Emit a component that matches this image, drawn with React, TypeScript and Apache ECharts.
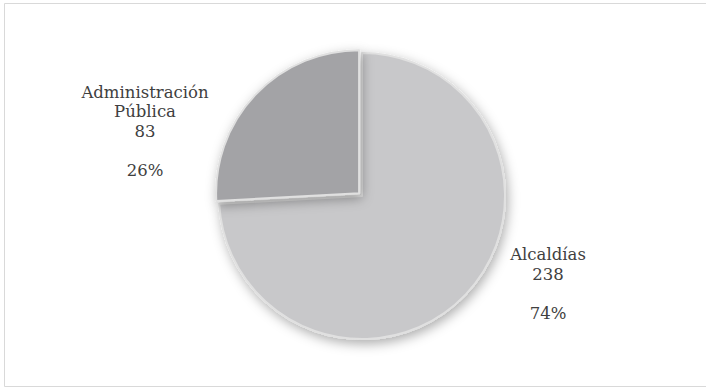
import React, { useEffect, useRef } from "react";
import * as echarts from "echarts";

const categories: string[] = ["Alcaldías", "Administración Pública"];
const values: number[] = [238, 83];
const colors: string[] = ["#c8c8ca", "#a3a3a6"];
const labelPositions: [number, number][] = [
  [548, 284],
  [145, 131],
];

export default function App() {
  const ref = useRef<HTMLDivElement>(null);
  useEffect(() => {
    if (!ref.current) return;
    const chart = echarts.init(ref.current, undefined, { renderer: "svg" });
    const common = {
      type: "pie",
      center: [362, 196],
      radius: 143,
      startAngle: 90,
      clockwise: true,
      percentPrecision: 0,
      avoidLabelOverlap: false,
      emphasis: { disabled: true },
      labelLine: { show: false },
    };
    chart.setOption({
      animation: false,
      backgroundColor: "#ffffff",
      graphic: [
        {
          type: "rect",
          shape: { x: 4.5, y: 3.5, width: 705, height: 383 },
          style: { fill: "none", stroke: "#d9d9d9", lineWidth: 1 },
          silent: true,
        },
      ],
      series: [
        {
          ...common,
          z: 2,
          selectedMode: "single",
          selectedOffset: 4,
          itemStyle: {
            borderColor: "#e0e0e0",
            borderWidth: 2,
            shadowBlur: 12,
            shadowColor: "rgba(0,0,0,0.32)",
            shadowOffsetX: 2,
            shadowOffsetY: 4,
          },
          label: { show: false },
          data: categories.map((c, i) => ({
            name: c,
            value: values[i],
            selected: i === 1,
            itemStyle: { color: colors[i] },
          })),
        },
        {
          ...common,
          z: 3,
          silent: true,
          selectedMode: false,
          itemStyle: { color: "rgba(0,0,0,0)", borderWidth: 0 },
          label: {
            show: true,
            position: "outside",
            formatter: (p: any) =>
              `{t|${String(p.name).replace(" ", "\n")}\n${p.value}\n\n${p.percent}%}`,
            rich: {
              t: {
                fontFamily: "DejaVu Serif",
                fontSize: 16.5,
                color: "#404040",
                lineHeight: 19.5,
                align: "center",
              },
            },
          },
          labelLayout: (p: any) => ({
            x: labelPositions[p.dataIndex][0],
            y: labelPositions[p.dataIndex][1],
            align: "center",
            verticalAlign: "middle",
          }),
          data: categories.map((c, i) => ({ name: c, value: values[i] })),
        },
      ],
    });
    return () => chart.dispose();
  }, []);
  return (
    <div
      ref={ref}
      style={{ position: "fixed", left: 0, top: 0, width: 706, height: 388 }}
    />
  );
}
